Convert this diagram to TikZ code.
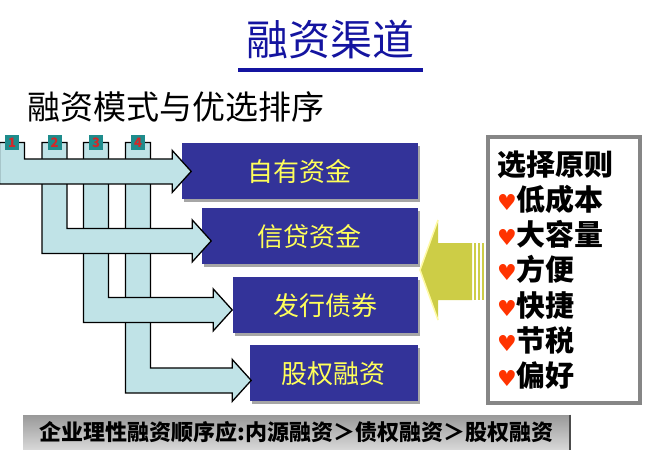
\documentclass[tikz,border=0pt]{standalone}
\usepackage{fontspec}
\newfontfamily\cjk{Noto Sans CJK SC}
\newfontfamily\symfont{DejaVu Sans}
\usepackage{xcolor}
\usetikzlibrary{backgrounds,fit,calc,shadows}

\definecolor{fundblue}{RGB}{51,51,153}
\definecolor{fundtext}{RGB}{255,255,90}
\definecolor{pipecyan}{RGB}{192,227,231}
\definecolor{tabteal}{RGB}{30,140,140}
\definecolor{tabred}{RGB}{210,40,40}
\definecolor{ruleyellow}{RGB}{205,205,70}
\definecolor{heartred}{RGB}{255,51,0}
\definecolor{titleblue}{RGB}{20,20,160}

\newcommand{\lovemark}{{\symfont\fontsize{22}{22}\selectfont\textcolor{heartred}{♥}}}

\begin{document}
\begin{tikzpicture}[x=1pt,y=-1pt,thick]
        \tikzstyle{fund} = [fill=fundblue,text=fundtext,font=\cjk\fontsize{26}{26}\selectfont,anchor=north east,minimum height=56pt,inner sep=0pt,drop shadow={shadow xshift=2.5pt,shadow yshift=-2.5pt,fill=gray!70,opacity=1}]
        \tikzstyle{channel} = [draw=black,fill=pipecyan,line width=1.3pt,line join=miter]
        \tikzstyle{tab} = [fill=tabteal,text=tabred,font=\cjk\bfseries\fontsize{13}{13}\selectfont,minimum width=14pt,minimum height=15pt,inner sep=0pt]
        \tikzstyle{rulebox} = [draw=gray!95,line width=4pt,fill=white,minimum width=152pt,minimum height=266pt,inner xsep=9pt,text width=134pt,align=left,font=\cjk\bfseries\fontsize{29}{35.3}\selectfont]
        \tikzstyle{banner} = [minimum width=547pt,minimum height=35pt,inner sep=0pt,top color=gray!80,middle color=white,bottom color=gray!30,font=\cjk\bfseries\fontsize{22}{22}\selectfont]
        %
        \useasboundingbox (0,0) rectangle (667,450);
        % Title and subtitle.
        \node[font=\cjk\fontsize{42}{42}\selectfont,text=titleblue,inner sep=0pt] (title) at (330.5,39) {融资渠道};
        \draw[titleblue,line width=4pt] ([xshift=-8pt,yshift=-15pt]title.base west) -- ([xshift=8pt,yshift=-15pt]title.base east);
        \node[font=\cjk\fontsize{33}{33}\selectfont,anchor=west,inner sep=0pt] (mode) at (27,107) {融资模式与优选排序};
        % Funding boxes.
        \node[fund,minimum width=236pt] (b1) at (418,143) {自有资金};
        \node[fund,minimum width=216pt] (b2) at (418,208) {信贷资金};
        \node[fund,minimum width=185pt] (b3) at (418,277) {发行债券};
        \node[fund,minimum width=168pt] (b4) at (418,345) {股权融资};
        % Tabs.
        \foreach \i/\x in {1/12,2/54.5,3/96,4/138}
            \coordinate (c\i) at (\x,142.5);
        % Channels, last one first.
        \foreach \i/\dx/\dy in {4/2/7,3/0/4.5,2/10/4.5,1/10/0} {
            \coordinate (m\i) at ($(b\i.west)+(\dx,\dy)$);
            \draw[channel] let \p1=(c\i), \p2=(m\i) in
                (\x1-12.5pt,\y1) -- (\x1+12.5pt,\y1) -- (\x1+12.5pt,\y2+12.5pt) -- (\x2-19pt,\y2+12.5pt)
                -- (\x2-19pt,\y2+21pt) -- (\p2) -- (\x2-19pt,\y2-21pt) -- (\x2-19pt,\y2-12.5pt)
                -- (\x1-12.5pt,\y2-12.5pt) -- cycle;
        }
        \foreach \i in {1,...,4}
            \node[tab] (t\i) at (c\i) {\i};
        % Selection principles.
        \node[rulebox] (rules) at (564,270) {选择原则\\\lovemark 低成本\\\lovemark 大容量\\\lovemark 方便\\\lovemark 快捷\\\lovemark 节税\\\lovemark 偏好};
        \coordinate (ytip) at ($(b2.east |- rules.west)+(2,0)$);
        \fill[ruleyellow] let \p1=(ytip) in
            (\p1) -- (\x1+18pt,\y1+50pt) -- (\x1+18pt,\y1+27pt) -- (\x1+52pt,\y1+27pt)
            -- (\x1+52pt,\y1-30pt) -- (\x1+18pt,\y1-30pt) -- (\x1+18pt,\y1-50pt) -- cycle;
        \draw[yellow!35,line width=1.5pt] let \p1=(ytip) in
            (\x1+18pt,\y1+50pt) -- (\p1) -- (\x1+18pt,\y1-50pt);
        \foreach \s in {53.5,57.5,61.5}
            \fill[ruleyellow] let \p1=(ytip) in (\x1+\s pt,\y1+27pt) rectangle (\x1+\s pt+2pt,\y1-30pt);
        % Summary banner.
        \node[banner] (summary) at (296.5,432.5) {企业理性融资顺序应:内源融资＞债权融资＞股权融资};
        \draw[gray!60!black,line width=2pt] (summary.north east) -- (summary.south east);
        %
\end{tikzpicture}
\end{document}
